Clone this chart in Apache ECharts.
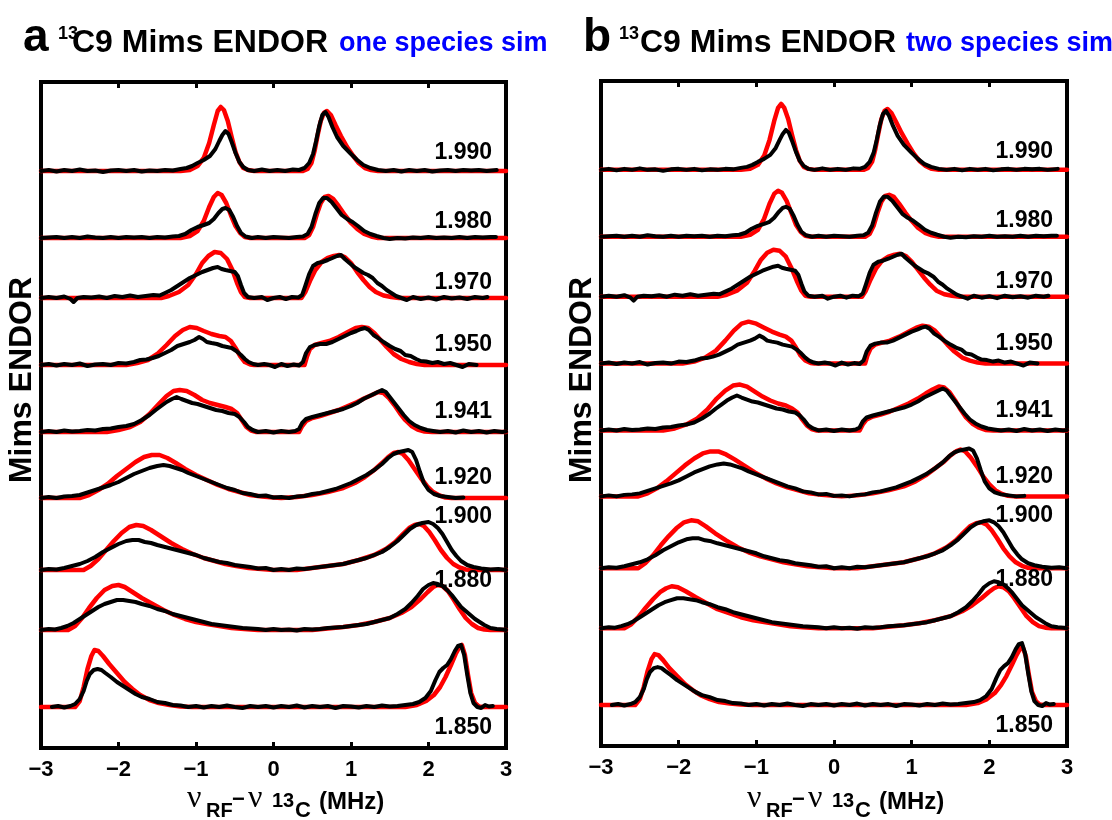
<!DOCTYPE html>
<html><head><meta charset="utf-8">
<script src="https://cdn.jsdelivr.net/npm/echarts/dist/echarts.min.js"></script>
<style>html,body{margin:0;padding:0;background:#fff}#c{width:1112px;height:820px}</style>
</head><body><div id="c"></div>
<script>
// ---------- DATA ----------
const gLabels = ['1.990','1.980','1.970','1.950','1.941','1.920','1.900','1.880','1.850'];
const offsets = [577,510,450,383,316,250,178,118,41];   // baseline of each trace (arb. units)
const labelDy = [18,16,15,20,20,20,53,49,-21];          // label height above baseline
const xTicks = [-3,-2,-1,0,1,2,3];

// experimental traces (same data in both panels)
const exp1990 = [[-3,0],[-2.9,1],[-2.8,-0.5],[-2.7,1],[-2.6,0],[-2.5,1.5],[-2.4,0],[-2.3,0.5],[-2.2,-1],[-2.1,0.5],[-2.0,1],[-1.9,0],[-1.8,1],[-1.7,-0.5],[-1.6,0.5],[-1.5,0],[-1.4,1],[-1.3,0.5],[-1.2,2],[-1.12,3],[-1.05,5],[-0.98,8],[-0.9,11],[-0.82,15],[-0.75,22],[-0.7,30],[-0.66,36],[-0.62,40],[-0.58,37],[-0.54,29],[-0.49,18],[-0.44,9],[-0.39,4],[-0.33,1],[-0.25,0],[-0.15,1.5],[-0.05,0],[0.05,1],[0.15,0],[0.25,1.5],[0.33,1],[0.4,3],[0.46,8],[0.51,17],[0.55,30],[0.59,45],[0.63,56],[0.67,59],[0.71,54],[0.76,44],[0.82,34],[0.9,25],[1.0,17],[1.08,11],[1.16,6],[1.25,3],[1.35,1],[1.45,0],[1.55,1],[1.65,-0.5],[1.75,1],[1.85,0],[1.95,1],[2.05,-0.5],[2.15,0.5],[2.25,1],[2.35,0],[2.45,1],[2.55,0.5],[2.65,1],[2.75,0],[2.88,1]];
const exp1980 = [[-3,0],[-2.9,0.5],[-2.8,1],[-2.7,0],[-2.6,1],[-2.5,0],[-2.4,1.5],[-2.3,0.5],[-2.2,0],[-2.1,1],[-2.0,0],[-1.9,1],[-1.8,0.5],[-1.7,1],[-1.6,0],[-1.5,1],[-1.4,0.5],[-1.3,1.5],[-1.22,2],[-1.14,4],[-1.06,8],[-0.98,11],[-0.9,13],[-0.83,15],[-0.77,19],[-0.71,25],[-0.66,29],[-0.62,30],[-0.57,28],[-0.52,21],[-0.47,12],[-0.42,5],[-0.36,1.5],[-0.28,0],[-0.2,1],[-0.1,0],[0,1],[0.1,0.5],[0.2,0],[0.3,1],[0.38,1.5],[0.44,4],[0.49,11],[0.54,24],[0.59,35],[0.64,40],[0.69,40],[0.75,36],[0.82,29],[0.88,23],[0.95,19],[1.02,16],[1.09,12],[1.17,7],[1.25,4],[1.33,2],[1.42,0],[1.5,-1],[1.6,0],[1.7,-0.5],[1.8,0.5],[1.9,0],[2.0,1],[2.1,0],[2.2,0.5],[2.3,0],[2.4,1],[2.5,0],[2.6,1],[2.7,0.5],[2.8,1],[2.87,1]];
const exp1970 = [[-3,0],[-2.9,1],[-2.8,0],[-2.7,1.5],[-2.62,-1],[-2.58,-4],[-2.53,0],[-2.45,1],[-2.35,0.5],[-2.25,1.5],[-2.15,0],[-2.05,2],[-1.95,1],[-1.85,2.5],[-1.75,1],[-1.65,2],[-1.55,3],[-1.47,2.5],[-1.4,5],[-1.32,8],[-1.24,12],[-1.16,16],[-1.08,20],[-1.0,23],[-0.92,26],[-0.85,28],[-0.78,30],[-0.72,31],[-0.67,29],[-0.62,28],[-0.56,27],[-0.5,26],[-0.46,22],[-0.42,13],[-0.38,5],[-0.33,1],[-0.25,0],[-0.15,1],[-0.08,-2],[0,0],[0.08,1],[0.16,-1],[0.24,1],[0.32,0.5],[0.37,3],[0.41,12],[0.46,24],[0.51,32],[0.57,35],[0.63,36],[0.7,38],[0.76,40],[0.82,42],[0.87,43],[0.92,39],[0.98,35],[1.04,31],[1.1,28],[1.16,25],[1.22,23],[1.28,20],[1.34,15],[1.4,12],[1.46,8],[1.52,5],[1.58,2],[1.65,0],[1.72,-2],[1.8,1],[1.9,-1],[2.0,0.5],[2.1,-1.5],[2.2,1],[2.3,-0.5],[2.4,0.5],[2.5,-1],[2.6,1],[2.7,0],[2.76,1]];
const exp1950 = [[-3,0],[-2.9,1],[-2.8,-0.5],[-2.7,1],[-2.6,0],[-2.5,1.5],[-2.4,-1],[-2.3,0.5],[-2.2,1],[-2.1,0],[-2.0,2],[-1.9,1.5],[-1.8,3],[-1.72,5],[-1.64,5.5],[-1.56,7],[-1.48,9],[-1.4,12],[-1.32,15],[-1.24,19],[-1.16,21],[-1.08,23],[-1.02,25],[-0.96,28],[-0.91,26],[-0.86,23],[-0.8,22],[-0.73,21],[-0.66,19],[-0.6,18],[-0.54,17],[-0.48,14],[-0.42,10],[-0.37,6],[-0.32,3],[-0.26,1],[-0.2,0],[-0.12,1],[-0.05,0],[0.02,-2],[0.1,1],[0.18,-1],[0.26,0.5],[0.33,-0.5],[0.38,3],[0.42,12],[0.47,18],[0.53,20],[0.6,21],[0.68,21],[0.76,23],[0.84,26],[0.92,29],[1.0,32],[1.07,34],[1.13,36],[1.18,37],[1.23,35],[1.29,30],[1.35,27],[1.42,23],[1.5,19],[1.57,16],[1.64,14],[1.7,10],[1.77,9],[1.84,6],[1.9,4],[1.97,3.5],[2.05,2],[2.12,3],[2.2,1],[2.28,2],[2.36,0],[2.44,-2],[2.52,1],[2.62,0]];
const exp1941 = [[-3,0],[-2.9,1],[-2.8,0],[-2.7,1.5],[-2.6,0.5],[-2.5,1],[-2.4,2],[-2.3,1.5],[-2.2,3],[-2.1,3.5],[-2.0,5],[-1.9,6],[-1.8,8],[-1.7,12],[-1.6,17],[-1.52,22],[-1.45,26],[-1.38,30],[-1.31,33],[-1.25,35],[-1.19,33],[-1.12,31],[-1.05,29],[-0.98,28],[-0.9,26],[-0.82,24],[-0.74,22],[-0.66,21],[-0.58,19],[-0.5,18],[-0.44,15],[-0.38,10],[-0.33,5],[-0.27,2],[-0.2,0],[-0.1,1],[0,-0.5],[0.1,1],[0.2,0],[0.28,1],[0.33,3],[0.37,9],[0.42,13],[0.5,15],[0.6,17],[0.7,19],[0.8,21],[0.9,23],[1.0,26],[1.08,29],[1.16,33],[1.24,36],[1.32,39],[1.4,42],[1.45,40],[1.5,35],[1.56,29],[1.62,23],[1.68,17],[1.75,11],[1.82,7],[1.9,4],[1.98,2],[2.06,1],[2.15,0],[2.25,1],[2.35,-0.5],[2.45,1.5],[2.55,0],[2.65,1],[2.75,-0.5],[2.85,1],[2.95,0],[3,0.5]];
const exp1920 = [[-3,0],[-2.9,1],[-2.8,0],[-2.7,1.5],[-2.6,2],[-2.5,3],[-2.42,5],[-2.34,7],[-2.26,9],[-2.18,11],[-2.1,13],[-2.0,16],[-1.9,20],[-1.8,24],[-1.7,27],[-1.6,30],[-1.5,32],[-1.42,33],[-1.34,32],[-1.26,30],[-1.18,28],[-1.1,25],[-1.0,22],[-0.9,19],[-0.8,16],[-0.7,13],[-0.6,10],[-0.5,8],[-0.4,5],[-0.3,4],[-0.2,2],[-0.1,2.5],[0,0.5],[0.1,1],[0.2,0],[0.3,1.5],[0.4,2],[0.5,4],[0.6,5],[0.7,7],[0.8,9],[0.9,12],[1.0,15],[1.1,19],[1.2,23],[1.3,28],[1.4,34],[1.48,40],[1.55,44],[1.62,46],[1.68,47],[1.74,48],[1.79,46],[1.84,38],[1.89,26],[1.94,15],[2.0,8],[2.07,4],[2.15,2],[2.25,1],[2.35,0],[2.45,0.5]];
const exp1900 = [[-3,0],[-2.9,1],[-2.8,0.5],[-2.7,2],[-2.6,4],[-2.5,6],[-2.4,9],[-2.3,13],[-2.2,18],[-2.1,22],[-2.0,26],[-1.9,29],[-1.82,30],[-1.74,30],[-1.66,28],[-1.58,27],[-1.5,25],[-1.4,23],[-1.3,21],[-1.2,19],[-1.1,17],[-1.0,15],[-0.9,12],[-0.8,10],[-0.7,8],[-0.6,7],[-0.5,5],[-0.4,4],[-0.3,3],[-0.2,1.5],[-0.1,2],[0,0],[0.1,1],[0.2,0],[0.3,1.5],[0.4,1],[0.5,2],[0.6,3],[0.7,4],[0.8,5],[0.9,6],[1.0,8],[1.1,10],[1.2,12],[1.3,15],[1.4,18],[1.5,23],[1.6,29],[1.68,35],[1.76,41],[1.84,45],[1.92,47],[2.0,48],[2.06,46],[2.12,42],[2.18,36],[2.24,28],[2.3,20],[2.36,14],[2.42,9],[2.5,5],[2.58,3],[2.68,1.5],[2.8,0.5],[2.9,1],[3,0]];
const exp1880 = [[-3,0],[-2.9,1],[-2.82,0.5],[-2.74,2],[-2.66,4],[-2.58,7],[-2.5,11],[-2.42,15],[-2.34,19],[-2.26,23],[-2.18,26],[-2.1,28],[-2.02,30],[-1.94,30],[-1.86,29],[-1.78,28],[-1.7,26],[-1.6,24],[-1.5,21],[-1.4,19],[-1.3,16],[-1.2,14],[-1.1,12],[-1.0,10],[-0.9,8],[-0.8,6],[-0.7,5],[-0.6,4],[-0.5,3],[-0.4,2],[-0.3,1.5],[-0.2,1],[-0.1,0],[0,1],[0.1,0],[0.2,0.5],[0.3,-0.5],[0.4,1],[0.5,0.5],[0.6,1],[0.7,2],[0.8,2.5],[0.9,3],[1.0,4],[1.1,5],[1.2,6],[1.3,8],[1.4,10],[1.5,12],[1.6,16],[1.7,21],[1.78,27],[1.86,34],[1.93,41],[2.0,45],[2.06,47],[2.12,46],[2.18,44],[2.24,40],[2.3,35],[2.36,29],[2.42,23],[2.48,19],[2.54,15],[2.6,11],[2.66,8],[2.72,5],[2.8,2],[2.88,1],[2.96,0.5],[3,0]];
const exp1850 = [[-2.86,0],[-2.78,1],[-2.7,-0.5],[-2.62,1],[-2.56,3],[-2.5,8],[-2.45,16],[-2.41,26],[-2.37,33],[-2.32,37],[-2.27,38],[-2.22,37],[-2.17,34],[-2.1,30],[-2.02,25],[-1.94,21],[-1.86,17],[-1.78,13],[-1.7,10],[-1.6,8],[-1.5,5],[-1.4,4],[-1.3,2],[-1.2,1.5],[-1.1,0],[-1.0,1],[-0.9,-0.5],[-0.8,1],[-0.7,0],[-0.6,1.5],[-0.5,0],[-0.4,-1],[-0.3,1],[-0.2,0],[-0.1,1],[0,-0.5],[0.1,1],[0.2,0],[0.3,1.5],[0.4,-0.5],[0.5,1],[0.6,0],[0.7,1],[0.8,-1],[0.9,1],[1.0,0.5],[1.1,-0.5],[1.2,1],[1.3,0],[1.4,1.5],[1.5,0.5],[1.6,1],[1.7,2],[1.8,3],[1.88,5],[1.96,9],[2.03,16],[2.09,27],[2.14,35],[2.19,39],[2.24,42],[2.29,48],[2.34,56],[2.38,61],[2.42,62],[2.46,52],[2.5,32],[2.54,14],[2.58,4],[2.63,0],[2.68,-1],[2.73,2],[2.78,0.5],[2.83,1]];

// one-species simulations (panel a)
const simA1990 = [[-3,0],[-1.2,0],[-1.08,1],[-0.98,5],[-0.9,13],[-0.83,28],[-0.77,46],[-0.72,60],[-0.68,64],[-0.64,61],[-0.59,50],[-0.54,34],[-0.49,19],[-0.44,9],[-0.39,3],[-0.33,1],[-0.25,0],[0.38,0],[0.44,2],[0.49,8],[0.53,20],[0.57,36],[0.61,50],[0.65,58],[0.69,60],[0.74,56],[0.8,46],[0.87,35],[0.95,24],[1.03,15],[1.1,8],[1.18,3],[1.26,1],[1.35,0],[3,0]];
const simA1980 = [[-3,0],[-1.2,0],[-1.08,2],[-0.98,7],[-0.9,17],[-0.83,31],[-0.77,41],[-0.72,45],[-0.67,43],[-0.61,35],[-0.55,23],[-0.49,12],[-0.43,5],[-0.37,1],[-0.3,0],[0.4,0],[0.46,3],[0.51,11],[0.56,24],[0.61,35],[0.66,41],[0.71,42],[0.77,39],[0.84,32],[0.92,23],[1.0,15],[1.08,9],[1.17,4],[1.26,1.5],[1.35,0],[3,0]];
const simA1970 = [[-3,0],[-1.45,0],[-1.35,2],[-1.22,6],[-1.1,13],[-1.0,24],[-0.92,35],[-0.84,42],[-0.76,46],[-0.68,45],[-0.6,39],[-0.53,28],[-0.47,15],[-0.42,6],[-0.37,1],[-0.3,0],[0.36,0],[0.41,6],[0.47,17],[0.54,28],[0.62,36],[0.7,40],[0.78,42],[0.85,43],[0.92,41],[1.0,35],[1.08,26],[1.16,18],[1.24,11],[1.32,6],[1.42,2.5],[1.52,1],[1.62,0],[3,0]];
const simA1950 = [[-3,0],[-1.9,0],[-1.76,2],[-1.62,5],[-1.5,11],[-1.38,20],[-1.27,29],[-1.17,35],[-1.08,38],[-0.99,37],[-0.9,34],[-0.8,31],[-0.7,29],[-0.62,28],[-0.55,24],[-0.49,17],[-0.43,9],[-0.37,3],[-0.3,0.5],[-0.25,0],[0.4,0],[0.43,8],[0.47,16],[0.53,20],[0.62,22],[0.72,24],[0.84,28],[0.96,33],[1.06,37],[1.14,38],[1.22,37],[1.3,32],[1.38,25],[1.46,18],[1.55,11],[1.65,6],[1.75,3],[1.85,1],[1.95,0],[3,0]];
const simA1941 = [[-3,0],[-2.15,0],[-2.0,2],[-1.85,5],[-1.72,10],[-1.6,18],[-1.48,28],[-1.38,36],[-1.29,41],[-1.21,42],[-1.12,41],[-1.02,37],[-0.92,32],[-0.82,29],[-0.72,27],[-0.62,25],[-0.54,23],[-0.47,19],[-0.41,12],[-0.35,5],[-0.29,1.5],[-0.22,0],[0.33,0],[0.37,6],[0.42,11],[0.5,14],[0.6,16],[0.72,19],[0.84,22],[0.96,26],[1.08,30],[1.18,34],[1.27,37],[1.35,40],[1.42,39],[1.49,34],[1.56,27],[1.63,19],[1.7,12],[1.78,6],[1.86,2.5],[1.95,0.5],[2.05,0],[3,0]];
const simA1920 = [[-3,0],[-2.5,0],[-2.38,3],[-2.26,8],[-2.14,14],[-2.02,22],[-1.9,29],[-1.78,36],[-1.67,41],[-1.57,43],[-1.47,43],[-1.37,40],[-1.26,35],[-1.14,29],[-1.0,23],[-0.86,18],[-0.72,13],[-0.58,9],[-0.44,6],[-0.3,3],[-0.15,1.5],[0,0.5],[0.1,0],[0.3,1],[0.5,3],[0.7,6],[0.9,10],[1.05,15],[1.18,21],[1.3,28],[1.4,35],[1.48,41],[1.55,45],[1.61,46],[1.67,44],[1.74,38],[1.82,29],[1.9,20],[1.98,12],[2.06,6],[2.14,2.5],[2.22,0.5],[2.3,0],[3,0]];
const simA1900 = [[-3,0],[-2.45,0],[-2.36,4],[-2.26,11],[-2.16,20],[-2.06,29],[-1.96,37],[-1.86,43],[-1.77,45],[-1.68,44],[-1.58,40],[-1.46,34],[-1.32,27],[-1.18,21],[-1.04,16],[-0.9,12],[-0.76,9],[-0.62,6],[-0.48,4],[-0.32,2],[-0.16,1],[0,0],[0.3,0],[0.5,2],[0.7,4],[0.9,6],[1.1,10],[1.3,15],[1.45,21],[1.57,28],[1.67,36],[1.75,42],[1.82,45],[1.88,46],[1.94,44],[2.01,38],[2.08,30],[2.16,20],[2.24,12],[2.32,6],[2.4,2.5],[2.48,0.5],[2.55,0],[3,0]];
const simA1880 = [[-3,0],[-2.65,0],[-2.56,4],[-2.47,12],[-2.38,22],[-2.28,32],[-2.18,40],[-2.08,44],[-2.0,45],[-1.92,43],[-1.82,38],[-1.7,32],[-1.56,26],[-1.42,20],[-1.28,15],[-1.14,11],[-1.0,8],[-0.86,6],[-0.7,4],[-0.54,2],[-0.38,1],[-0.2,0],[0.5,0],[0.7,1.5],[0.9,3],[1.1,5],[1.3,8],[1.5,12],[1.65,17],[1.78,23],[1.9,31],[1.99,38],[2.06,43],[2.12,45],[2.18,44],[2.25,39],[2.32,31],[2.4,21],[2.48,12],[2.56,6],[2.64,2],[2.72,0.5],[2.8,0],[3,0]];
const simA1850 = [[-3,0],[-2.56,0],[-2.5,6],[-2.45,20],[-2.4,38],[-2.35,51],[-2.31,57],[-2.26,56],[-2.2,51],[-2.12,43],[-2.02,34],[-1.92,25],[-1.82,18],[-1.72,12],[-1.6,7],[-1.48,4],[-1.34,2],[-1.2,0.5],[-1.05,0],[1.7,0],[1.85,2],[1.97,6],[2.07,12],[2.15,20],[2.22,30],[2.29,42],[2.35,53],[2.4,60],[2.43,62],[2.47,52],[2.51,32],[2.55,14],[2.6,4],[2.65,0.5],[2.7,0],[3,0]];

// two-species simulations (panel b)
const simB1990 = [[-3,0],[-1.2,0],[-1.08,1],[-0.98,5],[-0.9,14],[-0.83,30],[-0.77,49],[-0.72,62],[-0.68,66],[-0.64,62],[-0.59,51],[-0.54,35],[-0.49,20],[-0.44,9],[-0.39,3],[-0.33,1],[-0.25,0],[0.38,0],[0.44,2],[0.49,8],[0.53,20],[0.57,36],[0.61,51],[0.65,59],[0.69,61],[0.74,57],[0.8,48],[0.87,37],[0.95,26],[1.03,16],[1.1,9],[1.18,4],[1.26,1],[1.35,0],[3,0]];
const simB1980 = [[-3,0],[-1.2,0],[-1.08,2],[-0.98,7],[-0.9,18],[-0.83,33],[-0.77,43],[-0.72,46],[-0.67,44],[-0.61,36],[-0.55,24],[-0.49,12],[-0.43,5],[-0.37,1],[-0.3,0],[0.4,0],[0.46,3],[0.51,11],[0.56,24],[0.61,35],[0.66,41],[0.71,42],[0.77,40],[0.84,33],[0.92,24],[1.0,16],[1.08,9],[1.17,4],[1.26,1.5],[1.35,0],[3,0]];
const simB1970 = [[-3,0],[-1.5,0],[-1.38,2],[-1.25,6],[-1.12,14],[-1.02,26],[-0.94,37],[-0.86,44],[-0.78,47],[-0.7,46],[-0.62,40],[-0.55,29],[-0.48,16],[-0.42,6],[-0.37,1],[-0.3,0],[0.36,0],[0.41,6],[0.47,17],[0.54,28],[0.62,36],[0.7,40],[0.78,42],[0.85,43],[0.92,41],[1.0,35],[1.08,27],[1.16,19],[1.24,12],[1.32,6],[1.42,2.5],[1.52,1],[1.62,0],[3,0]];
const simB1950 = [[-3,0],[-1.95,0],[-1.8,2],[-1.66,6],[-1.52,13],[-1.4,23],[-1.29,33],[-1.19,40],[-1.1,42],[-1.0,40],[-0.9,36],[-0.8,32],[-0.7,29],[-0.62,27],[-0.55,23],[-0.49,16],[-0.43,8],[-0.37,3],[-0.3,0.5],[-0.25,0],[0.4,0],[0.43,8],[0.47,15],[0.53,19],[0.62,21],[0.72,23],[0.84,27],[0.96,32],[1.06,36],[1.14,38],[1.22,37],[1.3,33],[1.38,26],[1.46,19],[1.55,12],[1.65,6],[1.75,3],[1.85,1],[1.95,0],[3,0]];
const simB1941 = [[-3,0],[-2.2,0],[-2.05,2],[-1.9,6],[-1.76,12],[-1.63,21],[-1.51,32],[-1.4,40],[-1.3,45],[-1.21,46],[-1.12,44],[-1.02,39],[-0.92,34],[-0.82,30],[-0.72,27],[-0.62,25],[-0.54,22],[-0.47,18],[-0.41,11],[-0.35,5],[-0.29,1.5],[-0.22,0],[0.33,0],[0.37,6],[0.42,11],[0.5,14],[0.6,16],[0.72,19],[0.84,23],[0.96,27],[1.08,32],[1.18,37],[1.27,41],[1.35,44],[1.42,43],[1.49,38],[1.56,30],[1.63,21],[1.7,13],[1.78,7],[1.86,3],[1.95,0.5],[2.05,0],[3,0]];
const simB1920 = [[-3,0],[-2.52,0],[-2.4,3],[-2.28,8],[-2.16,15],[-2.04,23],[-1.92,31],[-1.8,38],[-1.69,43],[-1.59,45],[-1.49,45],[-1.39,42],[-1.28,37],[-1.16,31],[-1.02,24],[-0.88,18],[-0.74,13],[-0.6,9],[-0.46,6],[-0.32,3],[-0.16,1.5],[0,0.5],[0.1,0],[0.3,1],[0.5,3],[0.7,6],[0.9,10],[1.05,15],[1.18,21],[1.3,28],[1.42,35],[1.5,41],[1.57,45],[1.63,47],[1.69,45],[1.76,39],[1.84,30],[1.92,20],[2.0,12],[2.08,6],[2.16,2.5],[2.24,0.5],[2.32,0],[3,0]];
const simB1900 = [[-3,0],[-2.52,0],[-2.43,5],[-2.33,13],[-2.23,23],[-2.13,32],[-2.03,40],[-1.93,46],[-1.84,48],[-1.75,47],[-1.65,42],[-1.53,35],[-1.39,28],[-1.24,21],[-1.1,16],[-0.95,12],[-0.8,9],[-0.65,6],[-0.5,4],[-0.34,2],[-0.17,1],[0,0],[0.3,0],[0.5,2],[0.7,4],[0.9,6],[1.1,10],[1.3,15],[1.45,21],[1.57,28],[1.67,36],[1.75,42],[1.83,45],[1.9,46],[1.96,44],[2.03,38],[2.1,30],[2.18,20],[2.26,12],[2.34,6],[2.42,2.5],[2.5,0.5],[2.57,0],[3,0]];
const simB1880 = [[-3,0],[-2.7,0],[-2.61,4],[-2.52,11],[-2.43,20],[-2.33,29],[-2.24,36],[-2.16,40],[-2.09,42],[-2.01,41],[-1.91,37],[-1.78,31],[-1.64,25],[-1.5,19],[-1.35,15],[-1.2,11],[-1.04,8],[-0.88,6],[-0.72,4],[-0.56,2],[-0.4,1],[-0.2,0],[0.5,0],[0.7,1.5],[0.9,3],[1.1,5],[1.3,8],[1.5,12],[1.65,17],[1.78,23],[1.9,30],[1.99,36],[2.06,40],[2.12,42],[2.18,41],[2.25,37],[2.32,30],[2.4,21],[2.48,12],[2.56,6],[2.64,2],[2.72,0.5],[2.8,0],[3,0]];
const simB1850 = [[-3,0],[-2.56,0],[-2.5,6],[-2.45,18],[-2.4,34],[-2.35,46],[-2.31,51],[-2.26,50],[-2.2,45],[-2.12,37],[-2.02,29],[-1.92,21],[-1.82,15],[-1.72,10],[-1.6,6],[-1.48,3],[-1.34,1.5],[-1.2,0.5],[-1.05,0],[1.7,0],[1.85,2],[1.97,6],[2.07,12],[2.15,20],[2.22,29],[2.29,40],[2.35,50],[2.4,57],[2.43,58],[2.47,49],[2.51,30],[2.55,13],[2.6,4],[2.65,0.5],[2.7,0],[3,0]];

const expAll  = [exp1990,exp1980,exp1970,exp1950,exp1941,exp1920,exp1900,exp1880,exp1850];
const simAAll = [simA1990,simA1980,simA1970,simA1950,simA1941,simA1920,simA1900,simA1880,simA1850];
const simBAll = [simB1990,simB1980,simB1970,simB1950,simB1941,simB1920,simB1900,simB1880,simB1850];

// ---------- CHART ----------
const FONT = '"Liberation Sans", Arial, sans-serif';
const panels = [
  {grid:{left:41, top:82, width:465, height:666}, sims:simAAll, letter:'a', note:'one species sim', x0:41, supX:17, mainX:31, noteX:298},
  {grid:{left:601, top:81, width:466, height:665}, sims:simBAll, letter:'b', note:'two species sim', x0:601, supX:18, mainX:39, noteX:305}
];
const grids=[], xAxes=[], yAxes=[], series=[], graphic=[];
const tickFmt = v => (v < 0 ? '\u2212' + Math.abs(v) : String(v));

panels.forEach((p, k) => {
  grids.push(Object.assign({show:true, borderColor:'#000', borderWidth:4, backgroundColor:'transparent'}, p.grid));
  const baseX = {type:'value', min:xTicks[0], max:xTicks[xTicks.length-1], interval:1, gridIndex:k,
    axisLine:{show:false}, splitLine:{show:false},
    axisTick:{show:true, inside:true, length:6, lineStyle:{color:'#000', width:3}}};
  xAxes.push(Object.assign({}, baseX, {position:'bottom',
    axisLabel:{show:true, formatter:tickFmt, color:'#000', fontSize:22, fontWeight:'bold', fontFamily:FONT, margin:11}}));
  xAxes.push(Object.assign({}, baseX, {position:'top', axisLabel:{show:false}}));
  yAxes.push({type:'value', min:0, max:666, gridIndex:k, show:false});
  // red simulations
  p.sims.forEach((s, i) => {
    series.push({type:'line', xAxisIndex:2*k, yAxisIndex:k, showSymbol:false, silent:true, z:2,
      data:s.map(d => [d[0], d[1] + offsets[i]]),
      lineStyle:{color:'#ff0000', width:4.5, join:'round', cap:'round'}});
  });
  // black experiment
  expAll.forEach((s, i) => {
    series.push({type:'line', xAxisIndex:2*k, yAxisIndex:k, showSymbol:false, silent:true, z:3,
      data:s.map(d => [d[0], d[1] + offsets[i]]),
      lineStyle:{color:'#000', width:4, join:'round', cap:'round'}});
  });
  // g-value labels
  series.push({type:'scatter', xAxisIndex:2*k, yAxisIndex:k, symbolSize:0, silent:true, itemStyle:{color:'#000'}, z:4,
    data:gLabels.map((g, i) => ({name:g, value:[2.82, offsets[i] + labelDy[i]]})),
    label:{show:true, formatter:'{b}', position:'left', distance:0, color:'#000', opacity:1, fontSize:23, fontWeight:'bold', fontFamily:FONT}});

  const x0 = p.x0;
  const bold = (s) => 'bold ' + s + 'px ' + FONT;
  // titles
  graphic.push({type:'text', x:x0-18, y:38, style:{text:p.letter, font:bold(46), fill:'#000', align:'left', verticalAlign:'middle'}});
  graphic.push({type:'text', x:x0+p.supX, y:34, style:{text:'13', font:bold(18), fill:'#000', align:'left', verticalAlign:'middle'}});
  graphic.push({type:'text', x:x0+p.mainX, y:43, style:{text:'C9 Mims ENDOR', font:bold(32), fill:'#000', align:'left', verticalAlign:'middle'}});
  graphic.push({type:'text', x:x0+p.noteX, y:44, style:{text:p.note, font:bold(27), fill:'#0000ff', align:'left', verticalAlign:'middle'}});
  // y label
  graphic.push({type:'text', x:x0-19, y:380, rotation:Math.PI/2, style:{text:'Mims ENDOR', font:bold(32), fill:'#000', align:'center', verticalAlign:'middle'}});
  // x axis name
  graphic.push({type:'text', x:x0+146, y:799, style:{text:'\u03bd', font:'32px "Liberation Serif", serif', fill:'#000', align:'left', verticalAlign:'middle'}});
  graphic.push({type:'text', x:x0+165, y:811, style:{text:'RF', font:bold(20), fill:'#000', align:'left', verticalAlign:'middle'}});
  graphic.push({type:'text', x:x0+191, y:800, style:{text:'\u2212', font:bold(22), fill:'#000', align:'left', verticalAlign:'middle'}});
  graphic.push({type:'text', x:x0+207, y:799, style:{text:'\u03bd', font:'32px "Liberation Serif", serif', fill:'#000', align:'left', verticalAlign:'middle'}});
  graphic.push({type:'text', x:x0+231, y:801, style:{text:'13', font:bold(20), fill:'#000', align:'left', verticalAlign:'middle'}});
  graphic.push({type:'text', x:x0+254, y:811, style:{text:'C', font:bold(22), fill:'#000', align:'left', verticalAlign:'middle'}});
  graphic.push({type:'text', x:x0+278, y:802, style:{text:'(MHz)', font:bold(24), fill:'#000', align:'left', verticalAlign:'middle'}});
});

const chart = echarts.init(document.getElementById('c'), null, {renderer:'canvas'});
chart.setOption({animation:false, backgroundColor:'#fff', grid:grids, xAxis:xAxes, yAxis:yAxes, series:series, graphic:graphic});
</script></body></html>
